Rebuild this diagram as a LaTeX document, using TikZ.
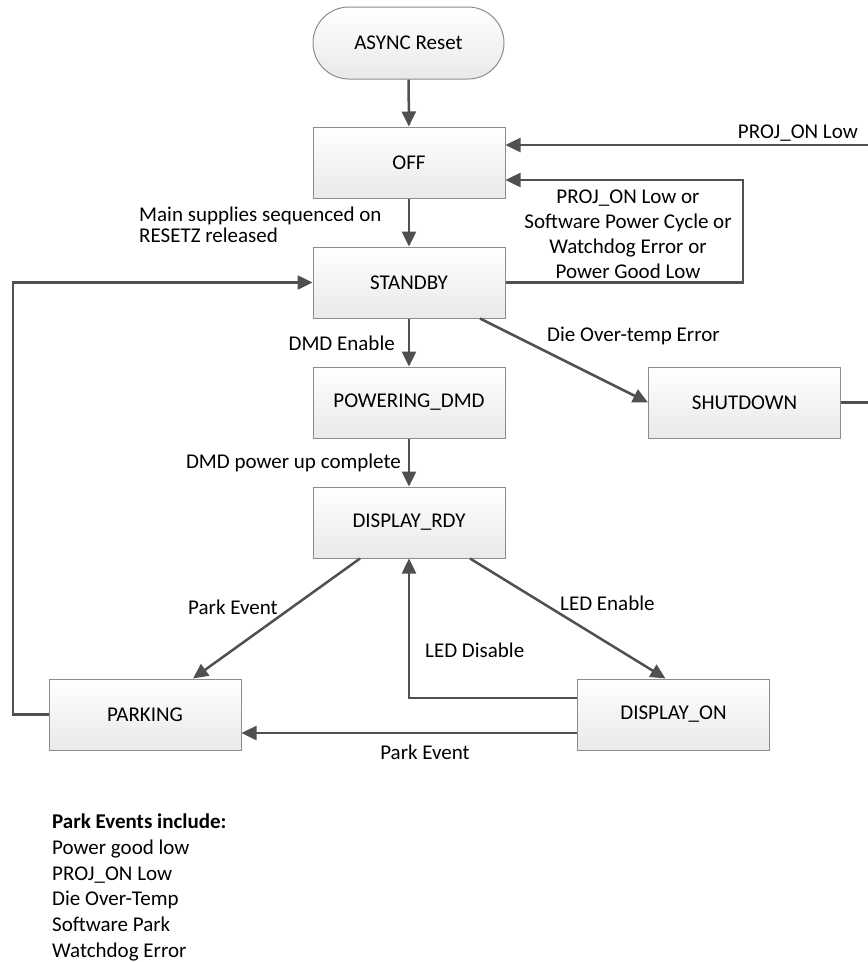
\documentclass[tikz,border=0pt]{standalone}
\usepackage{fontspec}
\setmainfont{Carlito}
\usetikzlibrary{arrows.meta,calc}
\definecolor{linec}{HTML}{505050}
\definecolor{boxline}{HTML}{8C8C8C}
\definecolor{boxbot}{HTML}{E9E9E9}
\tikzset{
  state/.style={rectangle, draw=boxline, line width=1pt, top color=white, bottom color=boxbot,
    minimum width=192pt, minimum height=71pt, inner sep=0pt,
    font=\fontsize{21}{25}\selectfont},
  pill/.style={state, rounded corners=36pt, minimum width=191pt, minimum height=72pt},
  conn/.style={draw=linec, line width=2.5pt, -{Triangle[length=15pt,width=14pt]}},
  lbl/.style={inner sep=0pt, font=\fontsize{21}{25}\selectfont}
}
\begin{document}
\begin{tikzpicture}[x=1pt,y=-1pt]
\useasboundingbox (0,0) rectangle (868,962);
\node[pill]  (async)   at (408.5,43)   {ASYNC Reset};
\node[state] (off)     at (409,162.5)  {OFF};
\node[state] (standby) at (409,282.5)  {STANDBY};
\node[state] (pow)     at (409,402.5)  {POWERING\_DMD};
\node[state] (rdy)     at (409,522.5)  {DISPLAY\_RDY};
\node[state] (shut)    at (744.5,402.5){SHUTDOWN};
\node[state] (park)    at (145,714.5)  {PARKING};
\node[state] (don)     at (673.5,714.5){DISPLAY\_ON};

\coordinate (rx) at (872,0);
\coordinate (sx) at (743,0);
\coordinate (lx) at (13,0);

\draw[conn] (async) -- (off);
\draw[conn] (off) -- (standby);
\draw[conn] (shut.east) -- (shut.east -| rx) |- ([yshift=17.5pt]off.east);
\draw[conn] (standby.east) -- (standby.east -| sx) |- ([yshift=-17.5pt]off.east);
\draw[conn] ([xshift=71pt]standby.south) -- (shut.west);
\draw[conn] (standby) -- (pow);
\draw[conn] (pow) -- (rdy);
\draw[conn] ([xshift=-49pt]rdy.south) -- ([xshift=48pt]park.north);
\draw[conn] ([xshift=61pt]rdy.south) -- ([xshift=-8pt]don.north);
\draw[conn] ([yshift=16.5pt]don.west) -| (rdy.south);
\draw[conn] ([yshift=-18.5pt]don.west) -- ([yshift=-18.5pt]don.west -| park.east);
\draw[conn] (park.west) -- (park.west -| lx) |- (standby.west);

\node[lbl, anchor=west, align=left, font=\fontsize{21}{21}\selectfont] (l1) at (139,225)
  {Main supplies sequenced on\\RESETZ released};
\node[lbl, anchor=east] (l2) at (858,133) {PROJ\_ON Low};
\node[lbl, align=center] (l3) at (628,234.5)
  {PROJ\_ON Low or\\Software Power Cycle or\\Watchdog Error or\\Power Good Low};
\node[lbl, anchor=west] (l4) at (547,336) {Die Over-temp Error};
\node[lbl, anchor=east] (l5) at (395,343) {DMD Enable};
\node[lbl, anchor=east] (l6) at (401,463) {DMD power up complete};
\node[lbl, anchor=west] (l7) at (188,607) {Park Event};
\node[lbl, anchor=west] (l8) at (560,603) {LED Enable};
\node[lbl, anchor=west] (l9) at (425,650) {LED Disable};
\node[lbl] (l10) at (425,752) {Park Event};
\node[lbl, anchor=west, align=left, font=\fontsize{21}{25.8}\selectfont] (list) at (52,887.5)
  {\textbf{Park Events include:}\\Power good low\\PROJ\_ON Low\\Die Over-Temp\\Software Park\\Watchdog Error};
\end{tikzpicture}
\end{document}
